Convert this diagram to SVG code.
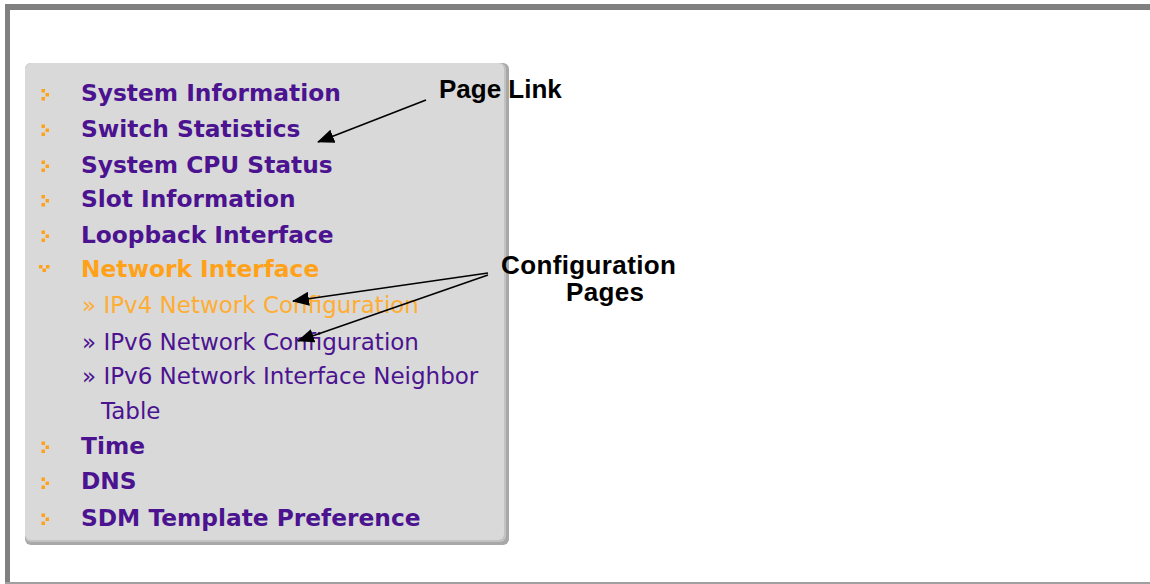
<svg xmlns="http://www.w3.org/2000/svg" width="1150" height="584" viewBox="0 0 1150 584">
<style>
.menu{font-family:"DejaVu Sans",Verdana,sans-serif;font-size:23.3px;font-weight:bold;fill:#4b1390}
.sub{font-family:"DejaVu Sans",Verdana,sans-serif;font-size:23px;fill:#4b1390}
.act{fill:#ffa21a}
.subact{fill:#ffad33}
.bul{fill:#ffa21a}
.ann{font-family:"Liberation Sans",Arial,sans-serif;font-size:26px;font-weight:bold;fill:#000}
.conn{stroke:#000;stroke-width:1.6;fill:none;marker-end:url(#ah)}
</style>
<defs>
<marker id="ah" markerUnits="userSpaceOnUse" markerWidth="17" markerHeight="14" refX="16" refY="7" orient="auto">
<path d="M0,0 L17,7 L0,14 z" fill="#000"/>
</marker>
<g id="chev">
<rect x="0" y="0" width="3.5" height="3.5"/>
<rect x="4" y="4" width="3.5" height="3.5"/>
<rect x="0" y="8" width="3.5" height="3.5"/>
</g>
</defs>
<rect width="1150" height="584" fill="#fff"/>
<g id="frame">
<rect x="5" y="4" width="1145" height="6" fill="#808080"/>
<rect x="5" y="4" width="5" height="580" fill="#808080"/>
<rect x="5" y="582" width="1145" height="2" fill="#a0a0a0"/>
</g>
<g id="panel">
<rect x="25" y="63" width="484" height="482" rx="6" fill="#a8a8a8"/>
<rect x="25" y="63" width="481" height="479" rx="6" fill="#c2c2c2"/>
<rect x="25" y="63" width="479" height="477" rx="6" fill="#d9d9d9"/>
</g>
<g id="bullets" class="bul">
<use href="#chev" x="41.5" y="89"/>
<use href="#chev" x="41.5" y="124.5"/>
<use href="#chev" x="41.5" y="160.5"/>
<use href="#chev" x="41.5" y="195"/>
<use href="#chev" x="41.5" y="230.5"/>
<use href="#chev" x="41.5" y="441.5"/>
<use href="#chev" x="41.5" y="477.5"/>
<use href="#chev" x="41.5" y="513.5"/>
<rect x="39" y="265" width="3.5" height="3.5"/>
<rect x="46" y="265" width="3.5" height="3.5"/>
<rect x="42.5" y="268.5" width="3.5" height="3.5"/>
</g>
<g id="n-system-information"><text class="menu" x="81" y="101">System Information</text></g>
<g id="n-switch-statistics"><text class="menu" x="81" y="137">Switch Statistics</text></g>
<g id="n-system-cpu-status"><text class="menu" x="81" y="173">System CPU Status</text></g>
<g id="n-slot-information"><text class="menu" x="81" y="207">Slot Information</text></g>
<g id="n-loopback-interface"><text class="menu" x="81" y="243">Loopback Interface</text></g>
<g id="n-network-interface"><text class="menu act" x="81" y="277">Network Interface</text></g>
<g id="n-ipv4-config"><text class="sub subact" x="82" y="313">» IPv4 Network Configuration</text></g>
<g id="n-ipv6-config"><text class="sub" x="82" y="350">» IPv6 Network Configuration</text></g>
<g id="n-ipv6-neighbor"><text class="sub" x="82" y="384">» IPv6 Network Interface Neighbor</text><text class="sub" x="101" y="419">Table</text></g>
<g id="n-time"><text class="menu" x="81" y="454">Time</text></g>
<g id="n-dns"><text class="menu" x="81" y="489">DNS</text></g>
<g id="n-sdm"><text class="menu" x="81" y="526">SDM Template Preference</text></g>
<g id="a-page-link"><text class="ann" x="439" y="98">Page Link</text></g>
<g id="a-config-pages"><text class="ann" x="501" y="274" textLength="175">Configuration</text><text class="ann" x="566" y="301" textLength="78">Pages</text></g>
<g id="connectors">
<line class="conn" x1="426" y1="100" x2="318" y2="142"/>
<line class="conn" x1="488" y1="273" x2="293" y2="301"/>
<line class="conn" x1="488" y1="275" x2="298" y2="341"/>
</g>
</svg>
